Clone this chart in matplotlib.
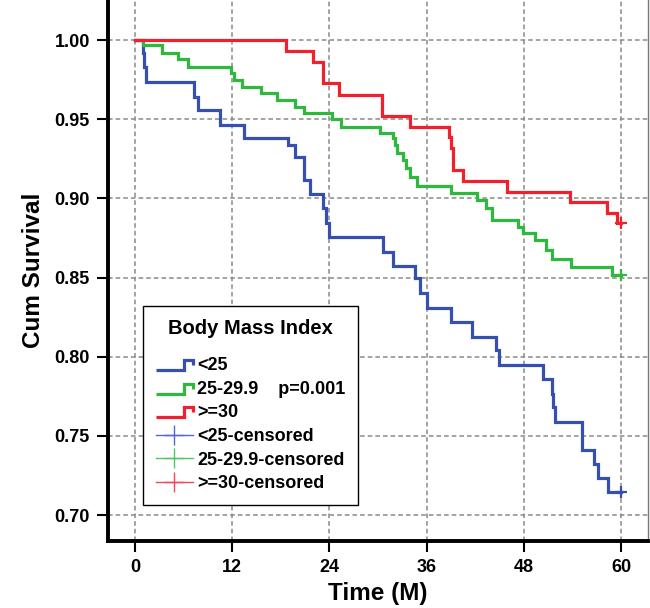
#!/usr/bin/env python3

import matplotlib
matplotlib.use("Agg")
import matplotlib.pyplot as plt
from matplotlib.lines import Line2D
from matplotlib.legend_handler import HandlerBase

# Kaplan-Meier steps (time in months, cumulative survival)
t_lt25 = [0, 0.95, 1.1, 1.36, 7.3, 7.8, 10.5, 13.4, 18.9, 19.75, 20.9, 21.6, 23.25, 23.6, 23.9,
          30.6, 31.8, 34.6, 35.2, 36.0, 39.0, 41.6, 44.6, 44.9, 50.3, 51.4, 51.6, 51.8, 55.1,
          55.2, 56.6, 57.1, 58.4, 60]
s_lt25 = [1.0, 0.9916, 0.9832, 0.9737, 0.9642, 0.9558, 0.9463, 0.9379, 0.9337, 0.9263, 0.9116,
          0.9027, 0.8937, 0.8842, 0.8754, 0.8663, 0.8573, 0.8495, 0.840, 0.8305, 0.8217, 0.8126,
          0.8042, 0.7947, 0.7859, 0.7768, 0.768, 0.7589, 0.7505, 0.741, 0.7326, 0.7232, 0.7147,
          0.7147]

t_mid = [0, 0.95, 3.3, 5.3, 6.6, 11.9, 12.2, 13.2, 15.6, 17.5, 19.8, 20.9, 24.3, 25.4, 30.2,
         31.8, 32.1, 32.3, 33.1, 33.5, 33.95, 34.8, 39.0, 42.2, 43.3, 44.0, 47.3, 47.9, 49.3,
         50.7, 51.4, 53.8, 58.8, 60]
s_mid = [1.0, 0.9968, 0.9916, 0.9878, 0.9832, 0.9790, 0.9747, 0.9705, 0.9667, 0.962, 0.9575,
         0.9537, 0.950, 0.9453, 0.941, 0.9379, 0.9337, 0.9284, 0.9242, 0.919, 0.9137, 0.9078,
         0.9032, 0.899, 0.8937, 0.8863, 0.882, 0.8779, 0.8737, 0.8674, 0.8615, 0.8564, 0.8516,
         0.8516]

t_ge30 = [0, 18.6, 22.0, 23.2, 25.2, 30.5, 33.9, 38.8, 39.0, 39.2, 40.5, 45.9, 53.7, 58.2, 59.5, 60]
s_ge30 = [1.0, 0.9931, 0.9863, 0.973, 0.9653, 0.952, 0.9453, 0.939, 0.9316, 0.918, 0.9111,
          0.904, 0.8975, 0.891, 0.8842, 0.8842]

labels = ["<25", "25-29.9", ">=30"]
p_text = "p=0.001"
x_ticks = [0, 12, 24, 36, 48, 60]
y_ticks = [0.70, 0.75, 0.80, 0.85, 0.90, 0.95, 1.00]

BLUE = "#3550b0"
GREEN = "#2eb83e"
RED = "#f0202c"


class StepHandler(HandlerBase):
	# draws the little step glyph used by SPSS in its legend
	def create_artists(self, legend, orig_handle, xdescent, ydescent, width, height, fontsize, trans):
		x0 = -xdescent
		y0 = -ydescent
		xs = [x0, x0 + 0.76 * width, x0 + 0.76 * width, x0 + width, x0 + width]
		ys = [y0 + 0.0 * height, y0 + 0.0 * height, y0 + 0.8 * height, y0 + 0.8 * height, y0 + 0.4 * height]
		ln = Line2D(xs, ys, color=orig_handle.get_color(), lw=orig_handle.get_linewidth(),
					solid_joinstyle="miter", solid_capstyle="butt")
		ln.set_transform(trans)
		return [ln]


def main():
	plt.rcParams["font.family"] = ["Liberation Sans", "DejaVu Sans"]
	plt.rcParams["font.weight"] = "bold"

	fig = plt.figure(figsize=(6.5, 6.08), dpi=100)
	ax = fig.add_axes([0.166, 0.110, 0.831, 0.890])

	groups = [(t_lt25, s_lt25, BLUE), (t_mid, s_mid, GREEN), (t_ge30, s_ge30, RED)]
	step_handles = []
	for (t, s, c), lab in zip(groups, labels):
		h, = ax.step(t, s, where="post", color=c, lw=2.3, zorder=3, solid_joinstyle="miter")
		ax.plot([t[-1]], [s[-1]], "+", color=c, ms=9, mew=1.6, zorder=4)
		step_handles.append(h)

	ax.set_xlim(-3.33, 63.3)
	ax.set_ylim(0.6836, 1.0253)
	ax.set_xticks(x_ticks)
	ax.set_yticks(y_ticks)
	ax.set_yticklabels(["%.2f" % v for v in y_ticks])
	ax.tick_params(axis="both", direction="out", length=8, width=1.5, labelsize=13, pad=5)
	for lab in ax.get_xticklabels() + ax.get_yticklabels():
		lab.set_fontweight("bold")

	ax.grid(True, color="#8a8a8a", linestyle=(0, (3, 2)), lw=1.1)
	ax.set_axisbelow(True)
	ax.spines["top"].set_visible(False)
	ax.spines["left"].set_linewidth(2.8)
	ax.spines["bottom"].set_linewidth(2.8)
	ax.spines["right"].set_color("#777777")
	ax.spines["right"].set_linewidth(1.0)

	ax.set_xlabel("Time (M)", fontsize=17.5, fontweight="bold", labelpad=4)
	ax.set_ylabel("Cum Survival", fontsize=17.5, fontweight="bold", labelpad=7)

	# legend: three step entries plus censored crosses
	cens = [Line2D([], [], color=c, lw=1.0, marker="+", ms=15, mew=1.0)
			for c in ["#5068d0", "#50c860", "#f04858"]]
	handles = step_handles + cens
	texts = [labels[0], labels[1] + "    " + p_text, labels[2]] + [l + "-censored" for l in labels]
	leg = ax.legend(handles, texts, title="Body Mass Index", loc="lower left",
					bbox_to_anchor=(0.0648, 0.0665), borderaxespad=0, fancybox=False,
					edgecolor="black", framealpha=1, fontsize=13, title_fontsize=14.5,
					handlelength=2.1, handletextpad=0.2, labelspacing=0.37,
					borderpad=0.7, handler_map={h: StepHandler() for h in step_handles})
	leg._legend_box.sep = 14
	leg.get_frame().set_linewidth(1.0)
	leg.get_title().set_fontweight("bold")
	for txt in leg.get_texts():
		txt.set_fontweight("bold")

	fig.savefig("out.png", dpi=100)


if __name__ == "__main__":
	main()
